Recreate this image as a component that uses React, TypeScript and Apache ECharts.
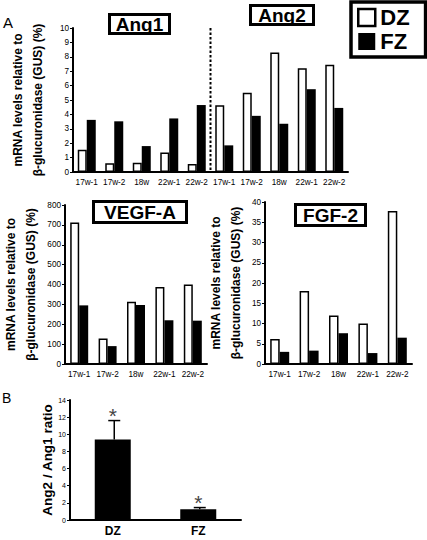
import React, { useEffect, useRef } from "react";
import * as echarts from "echarts";

const categories = ["17w-1", "17w-2", "18w", "22w-1", "22w-2"];
const ang1DZ = [1.55, 0.6, 0.65, 1.35, 0.55];
const ang1FZ = [3.62, 3.52, 1.8, 3.72, 4.65];
const ang2DZ = [4.63, 5.5, 8.3, 7.2, 7.45];
const ang2FZ = [1.85, 3.9, 3.35, 5.75, 4.45];
const vegfDZ = [712, 128, 313, 387, 400];
const vegfFZ = [295, 90, 297, 220, 218];
const fgfDZ = [6.2, 18, 12, 10, 37.8];
const fgfFZ = [3.0, 3.3, 7.6, 2.7, 6.5];
const ratioCats = ["DZ", "FZ"];
const ratioMean = [9.4, 1.25];
const ratioUpper = [11.6, 1.45];

const FONT = "'Liberation Sans', Arial, sans-serif";

export default function App() {
  const ref = useRef<HTMLDivElement>(null);
  useEffect(() => {
    const chart = echarts.init(ref.current!, null, { renderer: "svg" });
    const dzStyle = { color: "#fff", borderColor: "#000", borderWidth: 1.5 };
    const fzStyle = { color: "#000" };
    const yName = "mRNA levels relative to\nβ-glucuronidase (GUS) (%)";
    const yNameStyle = { fontSize: 12, fontWeight: "bold", color: "#000", lineHeight: 20, fontFamily: FONT };
    const xCat = (gridIndex: number, data: string[]) => ({
      type: "category",
      gridIndex,
      data,
      axisLine: { lineStyle: { color: "#000", width: 2 } },
      axisTick: { inside: true, length: 4, interval: 0, lineStyle: { color: "#000", width: 1.5 } },
      axisLabel: { fontSize: 8.2, color: "#000", margin: 6, interval: 0, fontFamily: FONT },
    });
    const yVal = (gridIndex: number, max: number, interval: number, name: string, nameGap: number, fs = 8.2) => ({
      type: "value",
      gridIndex,
      min: 0,
      max,
      interval,
      name,
      nameLocation: "middle",
      nameRotate: 90,
      nameGap,
      nameTextStyle: yNameStyle,
      splitLine: { show: false },
      axisLine: { show: true, lineStyle: { color: "#000", width: 2 } },
      axisTick: { show: true, length: 3, lineStyle: { color: "#000", width: 1 } },
      axisLabel: { fontSize: fs, color: "#000", margin: 4, fontFamily: FONT },
    });
    const cats10 = [...categories, ...categories];
    const boxes = [
      { id: "t1", x: 108, y: 13, w: 63, h: 22, t: "Ang1" },
      { id: "t2", x: 249, y: 4, w: 66, h: 22, t: "Ang2" },
      { id: "t3", x: 92, y: 200, w: 96, h: 24, t: "VEGF-A" },
      { id: "t4", x: 294, y: 203, w: 73, h: 24, t: "FGF-2" },
    ];
    const graphics: any[] = [];
    boxes.forEach((b) => {
      graphics.push({
        id: b.id + "r",
        type: "rect",
        z: 10,
        shape: { x: b.x + 1.5, y: b.y + 1.5, width: b.w - 3, height: b.h - 3 },
        style: { fill: "#fff", stroke: "#000", lineWidth: 3 },
      });
      graphics.push({
        id: b.id + "t",
        type: "text",
        z: 11,
        x: b.x + b.w / 2,
        y: b.y + b.h / 2 + 0.5,
        style: { text: b.t, fontSize: 19, fontWeight: "bold", fontFamily: FONT, fill: "#000", align: "center", verticalAlign: "middle" },
      });
    });
    graphics.push({ id: "A", type: "text", x: 3, y: 15, style: { text: "A", fontSize: 15, fontFamily: FONT, fill: "#000" } });
    graphics.push({ id: "B", type: "text", x: 2, y: 391, style: { text: "B", fontSize: 14, fontFamily: FONT, fill: "#000" } });

    const option: any = {
      animation: false,
      textStyle: { fontFamily: FONT },
      grid: [
        { left: 61, top: 28, width: 287, height: 144 },
        { left: 61, top: 205, width: 146, height: 159 },
        { left: 265, top: 202, width: 147, height: 162 },
        { left: 70, top: 400, width: 171, height: 120 },
      ],
      legend: {
        left: 351,
        top: 2,
        orient: "vertical",
        icon: "rect",
        itemWidth: 17,
        itemHeight: 17,
        itemGap: 2,
        padding: [4.5, 16, 4.5, 6],
        borderColor: "#000",
        borderWidth: 3.5,
        textStyle: { fontSize: 22, fontWeight: "bold", color: "#000", lineHeight: 22, fontFamily: FONT },
        data: [
          { name: "DZ", itemStyle: { color: "#fff", borderColor: "#000", borderWidth: 2.5 } },
          { name: "FZ", itemStyle: { color: "#000" } },
        ],
      },
      xAxis: [
        xCat(0, cats10),
        xCat(1, categories),
        xCat(2, categories),
        {
          ...xCat(3, ratioCats),
          axisLabel: { fontSize: 12, fontWeight: "bold", color: "#000", margin: 5, fontFamily: FONT },
        },
      ],
      yAxis: [
        yVal(0, 10, 1, yName, 25),
        yVal(1, 800, 100, yName, 24),
        yVal(2, 40, 5, yName, 19),
        {
          ...yVal(3, 14, 2, "Ang2 / Ang1 ratio", 16, 7),
          nameTextStyle: { fontSize: 13.5, fontWeight: "bold", color: "#000", fontFamily: FONT },
        },
      ],
      series: [
        { name: "DZ", type: "bar", xAxisIndex: 0, yAxisIndex: 0, data: [...ang1DZ, ...ang2DZ], barWidth: 9, barGap: "0%", itemStyle: dzStyle },
        { name: "FZ", type: "bar", xAxisIndex: 0, yAxisIndex: 0, data: [...ang1FZ, ...ang2FZ], barWidth: 9, barGap: "0%", itemStyle: fzStyle },
        { name: "DZ", type: "bar", xAxisIndex: 1, yAxisIndex: 1, data: vegfDZ, barWidth: 9, barGap: "0%", itemStyle: dzStyle },
        { name: "FZ", type: "bar", xAxisIndex: 1, yAxisIndex: 1, data: vegfFZ, barWidth: 9, barGap: "0%", itemStyle: fzStyle },
        { name: "DZ", type: "bar", xAxisIndex: 2, yAxisIndex: 2, data: fgfDZ, barWidth: 9.5, barGap: "0%", itemStyle: dzStyle },
        { name: "FZ", type: "bar", xAxisIndex: 2, yAxisIndex: 2, data: fgfFZ, barWidth: 9.5, barGap: "0%", itemStyle: fzStyle },
        { name: "ratio", type: "bar", xAxisIndex: 3, yAxisIndex: 3, data: ratioMean, barWidth: 36, itemStyle: { color: "#000" } },
        {
          name: "ratioErr",
          type: "custom",
          xAxisIndex: 3,
          yAxisIndex: 3,
          z: 5,
          data: ratioCats.map((c, i) => [i, ratioMean[i], ratioUpper[i]]),
          renderItem: (params: any, api: any) => {
            const p0 = api.coord([api.value(0), api.value(1)]);
            const p1 = api.coord([api.value(0), api.value(2)]);
            const x = p0[0] + 1.5;
            return {
              type: "group",
              children: [
                { type: "line", shape: { x1: x, y1: p0[1], x2: x, y2: p1[1] }, style: { stroke: "#000", lineWidth: 1.5 } },
                { type: "line", shape: { x1: x - 6, y1: p1[1], x2: x + 6, y2: p1[1] }, style: { stroke: "#000", lineWidth: 1.5 } },
                {
                  type: "text",
                  x: p0[0],
                  y: p1[1] + 5,
                  style: { text: "*", fontSize: 21, fontFamily: FONT, fill: "#444", align: "center", verticalAlign: "bottom" },
                },
              ],
            };
          },
        },
      ],
      graphic: { elements: graphics },
    };
    chart.setOption(option);
    const xa = chart.convertToPixel({ xAxisIndex: 0 }, 4) as number;
    const xb = chart.convertToPixel({ xAxisIndex: 0 }, 5) as number;
    const yTop = chart.convertToPixel({ yAxisIndex: 0 }, 10) as number;
    const yBot = chart.convertToPixel({ yAxisIndex: 0 }, 0) as number;
    const sx = (xa + xb) / 2;
    chart.setOption({
      graphic: {
        elements: [
          ...graphics,
          {
            id: "sep",
            type: "line",
            z: 9,
            shape: { x1: sx, y1: yTop, x2: sx, y2: yBot },
            style: { stroke: "#000", lineWidth: 2, lineDash: [2.5, 2] },
          },
        ],
      },
    });
    return () => chart.dispose();
  }, []);
  return <div ref={ref} style={{ position: "fixed", left: 0, top: 0, width: 427, height: 540, background: "#fff" }} />;
}
